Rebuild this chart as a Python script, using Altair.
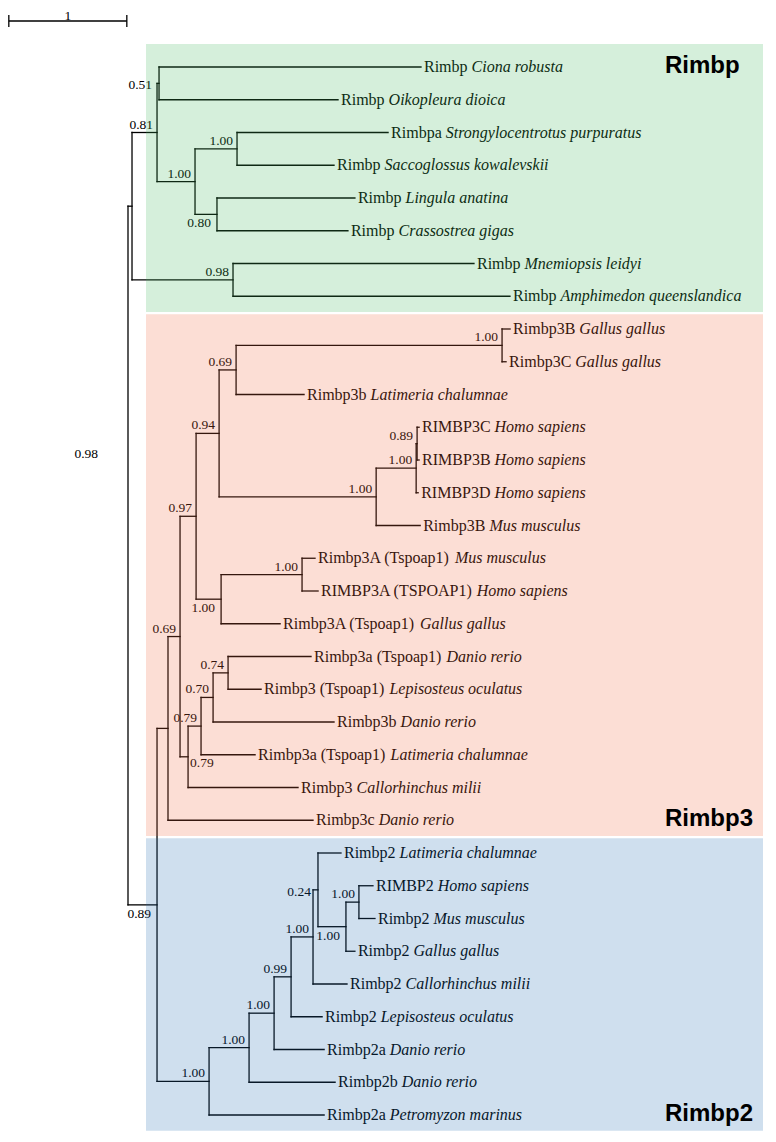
import altair as alt
import pandas as pd

# ---------------- data: tree topology, branch lengths, supports ----------------
node_id = ["root", "G", "B", "A", "C", "D", "E", "F",
           "N16", "N15", "N14", "N9", "N6", "N2", "N1", "N5", "N4", "N3",
           "N8", "N7", "N13", "N12", "N11", "N10",
           "R2", "R3", "R4", "R5", "R6", "R7", "R8", "R9"]
node_parent = [None, "root", "G", "B", "B", "C", "C", "G",
               "root", "N16", "N15", "N14", "N9", "N6", "N2", "N6", "N5", "N4",
               "N9", "N8", "N14", "N13", "N12", "N11",
               "N16", "R2", "R3", "R4", "R5", "R6", "R7", "R8"]
node_branch = [0.0, 0.034, 0.212, 0.017, 0.322, 0.356, 0.186, 0.856,
               0.246, 0.093, 0.102, 0.136, 0.195, 0.144, 2.254, 1.331, 0.339, 0.008,
               0.212, 0.686, 0.068, 0.110, 0.102, 0.127,
               0.441, 0.339, 0.212, 0.144, 0.186, 0.042, 0.237, 0.110]
node_support = ["0.98", "", "0.81", "0.51", "1.00", "1.00", "0.80", "0.98",
                "0.89", "", "0.69", "0.97", "0.94", "0.69", "1.00", "1.00", "1.00", "0.89",
                "1.00", "1.00", "0.79", "0.79", "0.70", "0.74",
                "1.00", "1.00", "1.00", "0.99", "1.00", "0.24", "1.00", "1.00"]
# where each support value is written relative to its node
support_side = ["root", "", "a", "l", "a", "a", "b", "a",
                "b", "", "a", "a", "a", "a", "a", "a", "a", "a",
                "b", "a", "br", "a", "a", "a",
                "a", "a", "a", "a", "a", "l", "b", "a"]

leaf_gene = ["Rimbp", "Rimbp", "Rimbpa", "Rimbp", "Rimbp", "Rimbp", "Rimbp", "Rimbp",
             "Rimbp3B", "Rimbp3C", "Rimbp3b", "RIMBP3C", "RIMBP3B", "RIMBP3D", "Rimbp3B",
             "Rimbp3A (Tspoap1)", "RIMBP3A (TSPOAP1)", "Rimbp3A (Tspoap1)", "Rimbp3a (Tspoap1)",
             "Rimbp3 (Tspoap1)", "Rimbp3b", "Rimbp3a (Tspoap1)", "Rimbp3", "Rimbp3c",
             "Rimbp2", "RIMBP2", "Rimbp2", "Rimbp2", "Rimbp2", "Rimbp2", "Rimbp2a", "Rimbp2b", "Rimbp2a"]
leaf_species = ["Ciona robusta", "Oikopleura dioica", "Strongylocentrotus purpuratus",
                "Saccoglossus kowalevskii", "Lingula anatina", "Crassostrea gigas",
                "Mnemiopsis leidyi", "Amphimedon queenslandica",
                "Gallus gallus", "Gallus gallus", "Latimeria chalumnae", "Homo sapiens",
                "Homo sapiens", "Homo sapiens", "Mus musculus", "Mus musculus", "Homo sapiens",
                "Gallus gallus", "Danio rerio", "Lepisosteus oculatus", "Danio rerio",
                "Latimeria chalumnae", "Callorhinchus milii", "Danio rerio",
                "Latimeria chalumnae", "Homo sapiens", "Mus musculus", "Gallus gallus",
                "Callorhinchus milii", "Lepisosteus oculatus", "Danio rerio", "Danio rerio",
                "Petromyzon marinus"]
leaf_parent = ["A", "A", "D", "D", "E", "E", "F", "F",
               "N1", "N1", "N2", "N3", "N3", "N4", "N5", "N7", "N7", "N8", "N10", "N10",
               "N11", "N12", "N13", "N15",
               "R7", "R9", "R9", "R8", "R6", "R5", "R4", "R3", "R2"]
leaf_branch = [2.220, 1.517, 1.280, 0.822, 1.169, 1.110, 2.042, 2.347,
               0.068, 0.034, 0.576, 0.017, 0.017, 0.017, 0.373, 0.110, 0.136, 0.500,
               0.703, 0.280, 1.025, 0.458, 0.932, 1.229,
               0.195, 0.119, 0.136, 0.076, 0.288, 0.263, 0.424, 0.729, 0.975]

group_names = ["Rimbp", "Rimbp3", "Rimbp2"]
group_first = [0, 8, 24]
group_last = [7, 23, 32]
group_title_row = [0, 23, 32]
group_fill = ["#40b65b", "#f1693f", "#256eb1"]

scale_bar_length = 1.0
scale_bar_label = "1"

# ---------------- layout (styles) ----------------
W, H = 760, 1126
PPU = 118.0            # pixels per branch-length unit
ROOT_PX = 120.0
ROW_PX = 32.75
FIRST_ROW_PX = 59.0
LEAF_FONT = 16
SUP_FONT = 13.5
OVERLAY_OPACITY = 0.22

TIMES = {" ": 250, "(": 333, ")": 333, "0": 500, "1": 500, "2": 500, "3": 500,
         "A": 722, "B": 667, "C": 667, "D": 722, "I": 333, "M": 889, "O": 722,
         "P": 556, "R": 667, "S": 556, "T": 611, "a": 444, "b": 500, "c": 444,
         "i": 278, "m": 778, "o": 500, "p": 500, "s": 389}


def text_w(s, size):
    return sum(TIMES.get(ch, 500) for ch in s) / 1000.0 * size


# ---------------- tree geometry ----------------
par = dict(zip(node_id, node_parent))
bl = dict(zip(node_id, node_branch))
children = {n: [] for n in node_id}
for n in node_id:
    if par[n] is not None:
        children[par[n]].append(("n", n))
for i, p in enumerate(leaf_parent):
    children[p].append(("l", i))

depth = {}


def get_depth(n):
    if n not in depth:
        p = par[n]
        depth[n] = 0.0 if p is None else get_depth(p) + bl[n]
    return depth[n]


ypos = {}


def get_y(n):
    if n not in ypos:
        ys = [c if k == "l" else get_y(c) for k, c in children[n]]
        ypos[n] = (min(ys) + max(ys)) / 2.0
    return ypos[n]


for n in node_id:
    get_depth(n)
    get_y(n)

segs = []
for n in node_id:
    if par[n] is not None:
        segs.append(dict(x=depth[par[n]], x2=depth[n], y=ypos[n], y2=ypos[n]))
    ys = [c if k == "l" else ypos[c] for k, c in children[n]]
    segs.append(dict(x=depth[n], x2=depth[n], y=min(ys), y2=max(ys)))
leaf_rows = []
for i in range(len(leaf_gene)):
    d0 = depth[leaf_parent[i]]
    d1 = d0 + leaf_branch[i]
    segs.append(dict(x=d0, x2=d1, y=i, y2=i))
    leaf_rows.append(dict(x=d1, y=i, gene=leaf_gene[i], species=leaf_species[i],
                          xs=d1 + (text_w(leaf_gene[i] + " ", LEAF_FONT)) / PPU))
seg_df = pd.DataFrame(segs)
leaf_df = pd.DataFrame(leaf_rows)

sup_df = pd.DataFrame([dict(x=depth[n], y=ypos[n], label=s, side=sd)
                       for n, s, sd in zip(node_id, node_support, support_side) if s])

xs = alt.Scale(domain=[-ROOT_PX / PPU, (W - ROOT_PX) / PPU], nice=False, zero=False)
ys = alt.Scale(domain=[-FIRST_ROW_PX / ROW_PX, (H - FIRST_ROW_PX) / ROW_PX],
               nice=False, zero=False, reverse=True)
X = lambda f: alt.X(f, type="quantitative", scale=xs, axis=None)
Y = lambda f: alt.Y(f, type="quantitative", scale=ys, axis=None)

lines = alt.Chart(seg_df).mark_rule(color="black", strokeWidth=1.3, strokeCap="square").encode(
    x=X("x"), x2="x2", y=Y("y"), y2="y2")

genes = alt.Chart(leaf_df).mark_text(align="left", baseline="middle", dx=3,
                                     font="Liberation Serif", fontSize=LEAF_FONT,
                                     color="black").encode(x=X("x"), y=Y("y"), text="gene:N")
species = alt.Chart(leaf_df).mark_text(align="left", baseline="middle", dx=3,
                                       font="Liberation Serif", fontSize=LEAF_FONT,
                                       fontStyle="italic", color="black").encode(
    x=X("xs"), y=Y("y"), text="species:N")

side_style = {
    "a": dict(align="right", dx=-4, dy=-8),
    "b": dict(align="right", dx=-6, dy=9),
    "l": dict(align="right", dx=-7, dy=2),
    "br": dict(align="left", dx=2, dy=6),
    "root": dict(align="right", dx=-30, dy=-102),
}
sup_layers = []
for sd, st in side_style.items():
    sub = sup_df[sup_df["side"] == sd]
    if len(sub) == 0:
        continue
    sup_layers.append(alt.Chart(sub).mark_text(baseline="middle", font="Liberation Serif",
                                               fontSize=SUP_FONT, color="black", **st).encode(
        x=X("x"), y=Y("y"), text="label:N"))

box_df = pd.DataFrame(dict(
    top=[f - (0.70 if k == 0 else 0.45) for k, f in enumerate(group_first)],
    bottom=[l + 0.48 for l in group_last],
    fill=group_fill))
boxes = alt.Chart(box_df).mark_rect(opacity=OVERLAY_OPACITY).encode(
    x=alt.value(138), x2=alt.value(755), y=Y("top"), y2="bottom",
    color=alt.Color("fill:N", scale=None))

title_df = pd.DataFrame(dict(name=group_names, y=group_title_row))
titles = alt.Chart(title_df).mark_text(align="left", baseline="alphabetic", dy=6,
                                       font="Liberation Sans", fontWeight="bold",
                                       fontSize=24, color="black").encode(
    x=alt.value(657), y=Y("y"), text="name:N")

sb_x0 = -1.01
sb_df = pd.DataFrame(dict(x=[sb_x0], x2=[sb_x0 + scale_bar_length],
                          xm=[sb_x0 + scale_bar_length / 2], label=[scale_bar_label]))
sb_line = alt.Chart(sb_df).mark_rule(color="black", strokeWidth=1.3).encode(
    x=X("x"), x2="x2", y=alt.value(13))
sb_tick0 = alt.Chart(sb_df).mark_rule(color="black", strokeWidth=1.3).encode(
    x=X("x"), y=alt.value(7), y2=alt.value(19))
sb_tick1 = alt.Chart(sb_df).mark_rule(color="black", strokeWidth=1.3).encode(
    x=X("x2"), y=alt.value(7), y2=alt.value(19))
sb_text = alt.Chart(sb_df).mark_text(align="center", baseline="alphabetic",
                                     font="Liberation Serif", fontSize=13.5,
                                     color="black").encode(
    x=X("xm"), y=alt.value(12), text="label:N")

chart = alt.layer(lines, genes, species, *sup_layers, boxes, titles,
                  sb_line, sb_tick0, sb_tick1, sb_text).properties(
    width=W, height=H, padding=0, autosize="none").configure_view(stroke=None)

chart.save("out.html", embed_options={"renderer": "svg", "actions": False})
